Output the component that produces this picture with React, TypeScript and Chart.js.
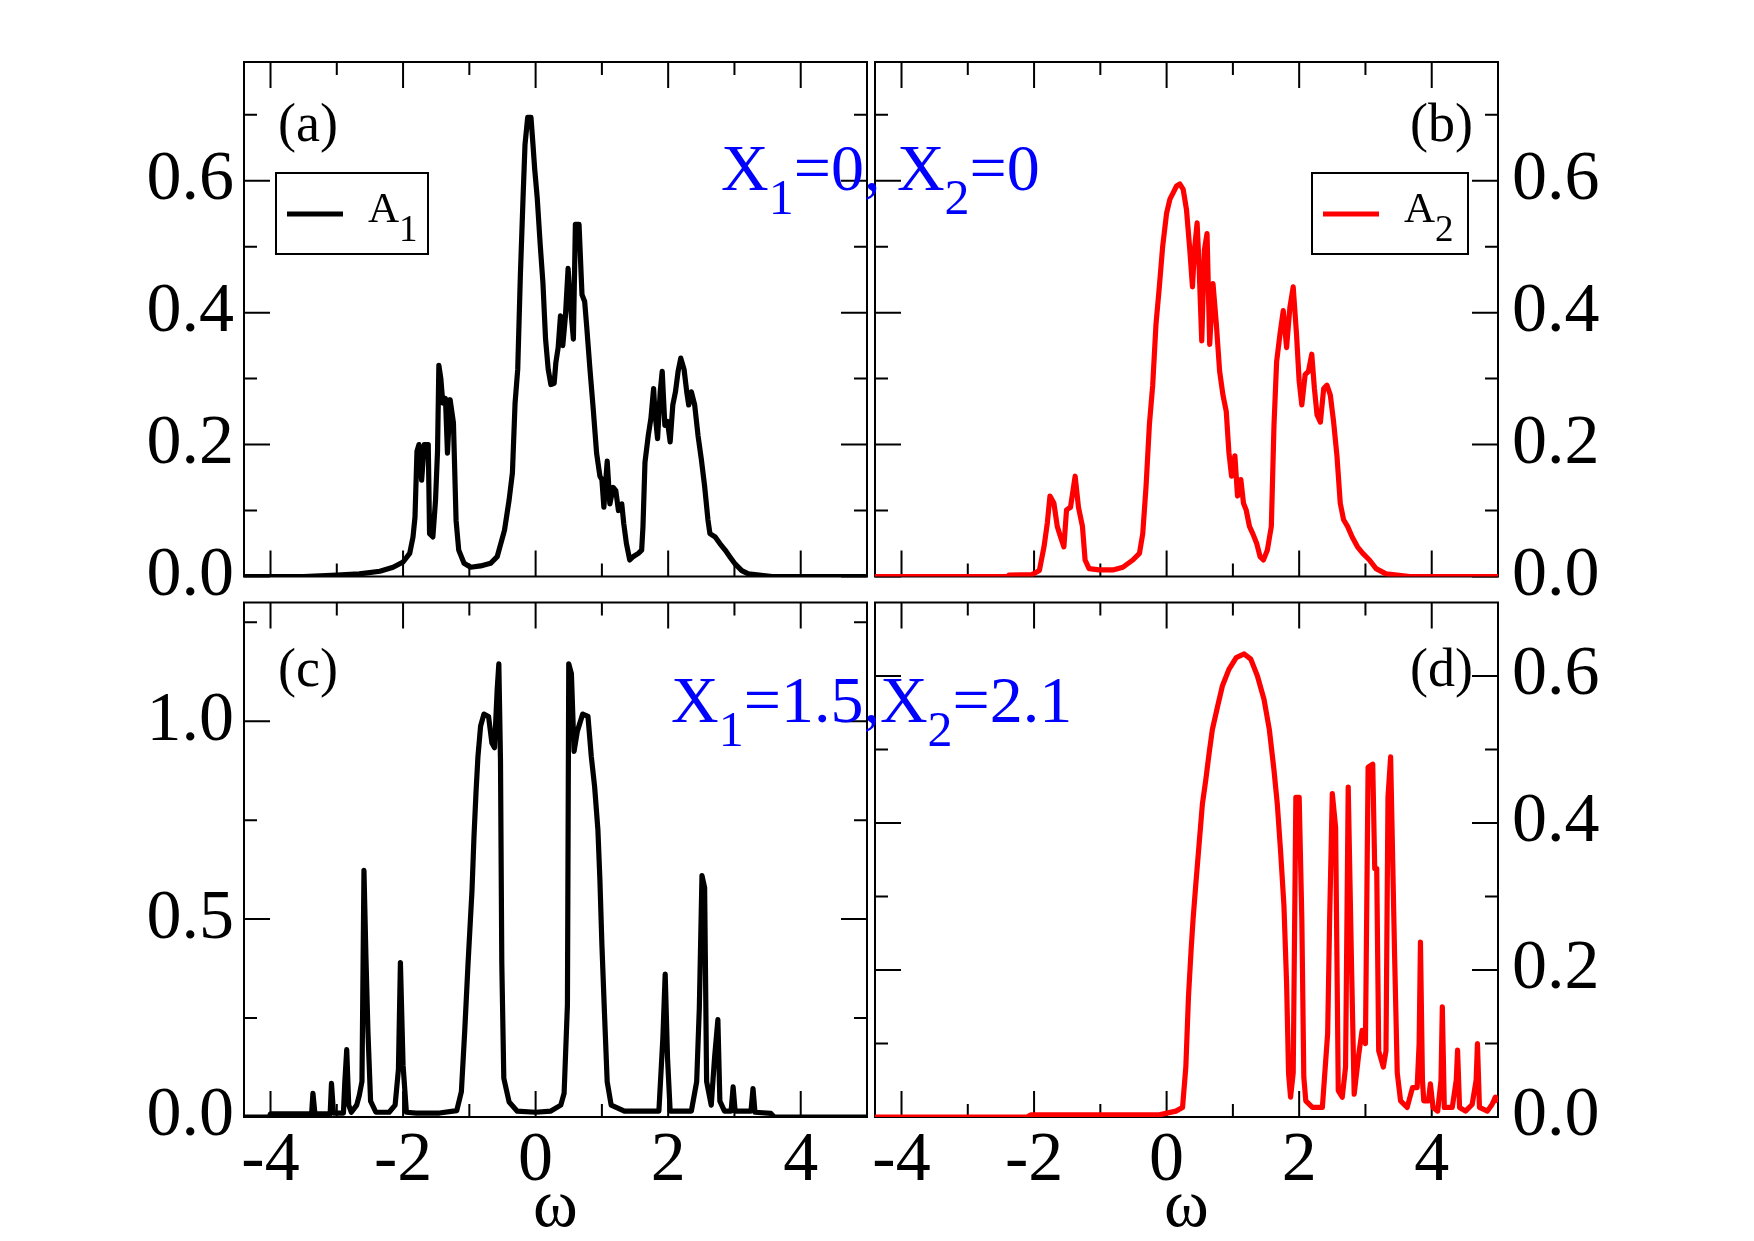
import React, { useEffect, useRef } from "react";
import { Chart, registerables } from "chart.js";

Chart.register(...registerables);

// Spectral functions A(ω) as [ω, A] pairs.
// X1 = 0, X2 = 0 — orbital 1
const specX0A1: [number, number][] = [
  [-4.4, 0], [-3.5, 0], [-3.0, 0.002], [-2.66, 0.004], [-2.35, 0.008], [-2.15, 0.014], [-2.0, 0.022],
  [-1.9, 0.035], [-1.85, 0.06], [-1.82, 0.09], [-1.79, 0.19], [-1.76, 0.2], [-1.72, 0.146], [-1.68, 0.2],
  [-1.62, 0.2], [-1.6, 0.065], [-1.55, 0.06], [-1.51, 0.116], [-1.48, 0.19], [-1.46, 0.32], [-1.43, 0.3],
  [-1.4, 0.263], [-1.36, 0.27], [-1.33, 0.187], [-1.29, 0.268], [-1.24, 0.233], [-1.2, 0.085], [-1.16, 0.04],
  [-1.08, 0.02], [-0.98, 0.014], [-0.83, 0.016], [-0.68, 0.02], [-0.58, 0.03], [-0.47, 0.07], [-0.4, 0.116],
  [-0.35, 0.157], [-0.31, 0.263], [-0.27, 0.314], [-0.23, 0.457], [-0.19, 0.573], [-0.16, 0.655],
  [-0.12, 0.696], [-0.07, 0.696], [-0.04, 0.655], [-0.015, 0.619], [0.025, 0.573], [0.07, 0.502],
  [0.11, 0.446], [0.15, 0.36], [0.19, 0.314], [0.23, 0.291], [0.28, 0.293], [0.305, 0.324], [0.34, 0.347],
  [0.375, 0.395], [0.41, 0.35], [0.45, 0.395], [0.49, 0.467], [0.53, 0.406], [0.57, 0.36], [0.6, 0.534],
  [0.655, 0.534], [0.7, 0.427], [0.74, 0.417], [0.77, 0.38], [0.82, 0.314], [0.87, 0.253], [0.92, 0.187],
  [0.97, 0.152], [1.0, 0.147], [1.03, 0.105], [1.08, 0.175], [1.12, 0.11], [1.17, 0.135], [1.21, 0.13],
  [1.25, 0.1], [1.3, 0.11], [1.33, 0.08], [1.37, 0.05], [1.42, 0.025], [1.47, 0.03], [1.55, 0.035],
  [1.6, 0.04], [1.62, 0.076], [1.65, 0.173], [1.7, 0.214], [1.74, 0.24], [1.78, 0.285], [1.8, 0.25],
  [1.84, 0.209], [1.88, 0.28], [1.91, 0.311], [1.95, 0.229], [1.99, 0.235], [2.03, 0.204], [2.07, 0.26],
  [2.11, 0.28], [2.15, 0.311], [2.19, 0.331], [2.24, 0.314], [2.28, 0.28], [2.31, 0.26], [2.35, 0.28],
  [2.4, 0.26], [2.45, 0.214], [2.5, 0.178], [2.55, 0.137], [2.6, 0.086], [2.63, 0.065], [2.71, 0.06],
  [2.78, 0.05], [2.86, 0.04], [2.93, 0.03], [3.01, 0.019], [3.11, 0.009], [3.21, 0.004], [3.57, 0], [5.0, 0],
];

// X1 = 0, X2 = 0 — orbital 2
const specX0A2: [number, number][] = [
  [-4.4, 0], [-2.4, 0], [-2.38, 0.002], [-2.03, 0.003], [-1.92, 0.009], [-1.85, 0.045], [-1.8, 0.081],
  [-1.76, 0.122], [-1.7, 0.111], [-1.65, 0.076], [-1.6, 0.06], [-1.55, 0.045], [-1.51, 0.101],
  [-1.45, 0.105], [-1.38, 0.152], [-1.33, 0.105], [-1.27, 0.076], [-1.23, 0.025], [-1.17, 0.012],
  [-1.02, 0.01], [-0.81, 0.01], [-0.66, 0.014], [-0.51, 0.025], [-0.41, 0.035], [-0.36, 0.065],
  [-0.31, 0.137], [-0.26, 0.23], [-0.21, 0.29], [-0.16, 0.383], [-0.11, 0.439], [-0.06, 0.5], [0.0, 0.551],
  [0.05, 0.572], [0.1, 0.582], [0.15, 0.592], [0.2, 0.595], [0.25, 0.587], [0.3, 0.556], [0.35, 0.495],
  [0.39, 0.439], [0.42, 0.495], [0.46, 0.536], [0.49, 0.47], [0.53, 0.357], [0.57, 0.495], [0.61, 0.52],
  [0.65, 0.352], [0.7, 0.444], [0.75, 0.383], [0.8, 0.311], [0.85, 0.275], [0.9, 0.25], [0.94, 0.188],
  [0.98, 0.152], [1.03, 0.183], [1.07, 0.122], [1.12, 0.147], [1.16, 0.111], [1.2, 0.101], [1.25, 0.076],
  [1.3, 0.065], [1.36, 0.05], [1.41, 0.03], [1.46, 0.025], [1.52, 0.04], [1.58, 0.076], [1.62, 0.229],
  [1.66, 0.326], [1.71, 0.367], [1.76, 0.403], [1.81, 0.347], [1.86, 0.408], [1.91, 0.439], [1.96, 0.367],
  [2.0, 0.296], [2.04, 0.26], [2.09, 0.306], [2.14, 0.311], [2.19, 0.337], [2.23, 0.285], [2.27, 0.245],
  [2.32, 0.234], [2.37, 0.285], [2.42, 0.29], [2.47, 0.275], [2.52, 0.234], [2.57, 0.183], [2.62, 0.111],
  [2.67, 0.086], [2.73, 0.076], [2.8, 0.06], [2.88, 0.045], [2.96, 0.035], [3.06, 0.025], [3.16, 0.012],
  [3.31, 0.004], [3.67, 0], [5.0, 0],
];

// X1 = 1.5, X2 = 2.1 — orbital 1
const specX15A1: [number, number][] = [
  [-4.4, 0], [-4.02, 0], [-4.0, 0.008], [-3.38, 0.008], [-3.36, 0.06], [-3.33, 0.008], [-3.1, 0.008],
  [-3.08, 0.085], [-3.05, 0.01], [-2.9, 0.01], [-2.88, 0.085], [-2.85, 0.17], [-2.82, 0.03], [-2.78, 0.012],
  [-2.7, 0.03], [-2.66, 0.055], [-2.62, 0.09], [-2.59, 0.623], [-2.56, 0.403], [-2.53, 0.216],
  [-2.49, 0.04], [-2.41, 0.012], [-2.21, 0.012], [-2.12, 0.03], [-2.07, 0.12], [-2.04, 0.39], [-2.0, 0.131],
  [-1.95, 0.012], [-1.8, 0.01], [-1.45, 0.01], [-1.19, 0.016], [-1.12, 0.064], [-1.07, 0.216],
  [-1.02, 0.386], [-0.96, 0.572], [-0.93, 0.708], [-0.9, 0.818], [-0.87, 0.911], [-0.83, 0.988],
  [-0.78, 1.018], [-0.71, 1.012], [-0.66, 0.945], [-0.62, 0.933], [-0.58, 1.08], [-0.555, 1.145],
  [-0.53, 0.9], [-0.51, 0.386], [-0.48, 0.098], [-0.4, 0.038], [-0.28, 0.015], [0.0, 0.012], [0.23, 0.015],
  [0.38, 0.03], [0.43, 0.06], [0.48, 0.284], [0.5, 1.145], [0.54, 1.12], [0.58, 0.924], [0.63, 0.975],
  [0.71, 1.018], [0.79, 1.012], [0.84, 0.911], [0.89, 0.835], [0.94, 0.725], [0.97, 0.599], [1.0, 0.436],
  [1.04, 0.258], [1.08, 0.089], [1.14, 0.03], [1.34, 0.015], [1.86, 0.015], [1.92, 0.2], [1.955, 0.361],
  [1.99, 0.15], [2.03, 0.015], [2.35, 0.015], [2.43, 0.089], [2.47, 0.275], [2.51, 0.61], [2.55, 0.58],
  [2.58, 0.09], [2.65, 0.03], [2.7, 0.15], [2.75, 0.246], [2.78, 0.04], [2.85, 0.015], [2.95, 0.015],
  [2.98, 0.076], [3.01, 0.015], [3.25, 0.015], [3.28, 0.072], [3.31, 0.012], [3.55, 0.009], [3.6, 0],
  [5.0, 0],
];

// X1 = 1.5, X2 = 2.1 — orbital 2
const specX15A2: [number, number][] = [
  [-4.4, 0], [-2.1, 0], [-2.05, 0.003], [-0.11, 0.003], [0.14, 0.008], [0.24, 0.013], [0.29, 0.068],
  [0.33, 0.164], [0.37, 0.228], [0.4, 0.27], [0.44, 0.316], [0.49, 0.371], [0.54, 0.426], [0.59, 0.458],
  [0.64, 0.494], [0.69, 0.527], [0.77, 0.559], [0.84, 0.586], [0.94, 0.609], [1.05, 0.625], [1.17, 0.63],
  [1.27, 0.623], [1.37, 0.6], [1.47, 0.568], [1.55, 0.527], [1.62, 0.472], [1.67, 0.426], [1.72, 0.361],
  [1.77, 0.288], [1.81, 0.183], [1.84, 0.059], [1.87, 0.027], [1.91, 0.06], [1.95, 0.435], [2.0, 0.435],
  [2.04, 0.27], [2.07, 0.054], [2.1, 0.022], [2.2, 0.013], [2.35, 0.013], [2.43, 0.114], [2.46, 0.27],
  [2.5, 0.44], [2.55, 0.394], [2.59, 0.036], [2.65, 0.027], [2.7, 0.068], [2.74, 0.449], [2.79, 0.206],
  [2.83, 0.031], [2.9, 0.086], [2.95, 0.118], [3.0, 0.1], [3.04, 0.476], [3.11, 0.48], [3.14, 0.338],
  [3.17, 0.338], [3.2, 0.09], [3.27, 0.068], [3.31, 0.09], [3.34, 0.435], [3.38, 0.49], [3.44, 0.219],
  [3.48, 0.06], [3.53, 0.022], [3.63, 0.013], [3.71, 0.04], [3.78, 0.04], [3.81, 0.1], [3.83, 0.238],
  [3.86, 0.05], [3.88, 0.022], [3.95, 0.022], [3.98, 0.045], [4.02, 0.013], [4.09, 0.008], [4.14, 0.05],
  [4.16, 0.15], [4.19, 0.013], [4.31, 0.013], [4.37, 0.05], [4.39, 0.091], [4.42, 0.013], [4.51, 0.008],
  [4.61, 0.017], [4.67, 0.05], [4.69, 0.1], [4.72, 0.013], [4.84, 0.008], [4.91, 0.017], [4.96, 0.027],
  [5.0, 0.02],
];

// Axis ranges and tick values
const omegaRange: [number, number] = [-4.4, 5.0];
const omegaTicks = [-4, -2, 0, 2, 4];
const omegaMinorTicks = [-3, -1, 1, 3];

const rhoMaxX0 = 0.78;
const rhoTicksX0 = [0, 0.2, 0.4, 0.6];
const rhoMinorTicksX0 = [0.1, 0.3, 0.5, 0.7];

const rhoMaxX15A1 = 1.3;
const rhoTicksX15A1 = [0, 0.5, 1.0];
const rhoMinorTicksX15A1 = [0.25, 0.75, 1.25];

const rhoMaxX15A2 = 0.7;
const rhoTicksX15A2 = [0, 0.2, 0.4, 0.6];
const rhoMinorTicksX15A2 = [0.1, 0.3, 0.5];

// Page geometry
const PAGE_W = 1754;
const PAGE_H = 1241;
const CANVAS_H = 1300;
const Y_AXIS_W = 200;
const X_AXIS_H = 132;
const MAJOR_LEN = 26;
const MINOR_LEN = 13;
const CURVE_W = 5.2;
const SERIF = '"Liberation Serif", "Times New Roman", serif';

type Part = { t: string; sub?: boolean };

interface Panel {
  id: string;
  spec: [number, number][];
  color: string;
  name: string;
  index: string;
  area: { left: number; top: number; right: number; bottom: number };
  yMax: number;
  yTicks: number[];
  yMinor: number[];
  ySide: "left" | "right";
  showOmega: boolean;
  tag: string;
  tagY: number;
  legend?: { left: number; top: number; width: number; height: number };
  note?: { parts: Part[]; x: number; y: number };
}

const panels: Panel[] = [
  {
    id: "a", spec: specX0A1, color: "#000000", name: "A", index: "1",
    area: { left: 244, top: 62, right: 867, bottom: 576.5 },
    yMax: rhoMaxX0, yTicks: rhoTicksX0, yMinor: rhoMinorTicksX0, ySide: "left",
    showOmega: false, tag: "(a)", tagY: 141,
    legend: { left: 276, top: 173, width: 152, height: 81 },
  },
  {
    id: "c", spec: specX15A1, color: "#000000", name: "A", index: "1",
    area: { left: 244, top: 602.5, right: 867, bottom: 1117 },
    yMax: rhoMaxX15A1, yTicks: rhoTicksX15A1, yMinor: rhoMinorTicksX15A1, ySide: "left",
    showOmega: true, tag: "(c)", tagY: 686,
  },
  {
    id: "b", spec: specX0A2, color: "#ff0000", name: "A", index: "2",
    area: { left: 875, top: 62, right: 1498, bottom: 576.5 },
    yMax: rhoMaxX0, yTicks: rhoTicksX0, yMinor: rhoMinorTicksX0, ySide: "right",
    showOmega: false, tag: "(b)", tagY: 141,
    legend: { left: 1312, top: 173, width: 156, height: 81 },
    note: {
      parts: [{ t: "X" }, { t: "1", sub: true }, { t: "=0, X" }, { t: "2", sub: true }, { t: "=0" }],
      x: 721, y: 190,
    },
  },
  {
    id: "d", spec: specX15A2, color: "#ff0000", name: "A", index: "2",
    area: { left: 875, top: 602.5, right: 1498, bottom: 1117 },
    yMax: rhoMaxX15A2, yTicks: rhoTicksX15A2, yMinor: rhoMinorTicksX15A2, ySide: "right",
    showOmega: true, tag: "(d)", tagY: 686,
    note: {
      parts: [{ t: "X" }, { t: "1", sub: true }, { t: "=1.5,X" }, { t: "2", sub: true }, { t: "=2.1" }],
      x: 671, y: 722,
    },
  },
];

function drawRich(
  ctx: CanvasRenderingContext2D, parts: Part[], x: number, y: number,
  size: number, subSize: number, drop: number, color: string,
) {
  let cx = x;
  ctx.fillStyle = color;
  ctx.textAlign = "left";
  ctx.textBaseline = "alphabetic";
  for (const p of parts) {
    ctx.font = `${p.sub ? subSize : size}px ${SERIF}`;
    ctx.fillText(p.t, cx, y + (p.sub ? drop : 0));
    cx += ctx.measureText(p.t).width;
  }
}

function decorations(p: Panel) {
  return {
    id: "decor-" + p.id,
    beforeDatasetsDraw(chart: any) {
      const { ctx, chartArea: a } = chart;
      const xs = chart.scales.x;
      const ys = chart.scales.y;
      ctx.save();
      ctx.strokeStyle = "#000";
      ctx.lineWidth = 2;
      ctx.strokeRect(a.left, a.top, a.right - a.left, a.bottom - a.top);
      ctx.beginPath();
      const xTick = (v: number, len: number) => {
        const px = xs.getPixelForValue(v);
        ctx.moveTo(px, a.bottom);
        ctx.lineTo(px, a.bottom - len);
        ctx.moveTo(px, a.top);
        ctx.lineTo(px, a.top + len);
      };
      const yTick = (v: number, len: number) => {
        const py = ys.getPixelForValue(v);
        ctx.moveTo(a.left, py);
        ctx.lineTo(a.left + len, py);
        ctx.moveTo(a.right, py);
        ctx.lineTo(a.right - len, py);
      };
      omegaTicks.forEach((v) => xTick(v, MAJOR_LEN));
      omegaMinorTicks.forEach((v) => xTick(v, MINOR_LEN));
      p.yTicks.forEach((v) => yTick(v, MAJOR_LEN));
      p.yMinor.forEach((v) => yTick(v, MINOR_LEN));
      ctx.stroke();
      ctx.restore();
    },
    afterDatasetsDraw(chart: any) {
      const { ctx, chartArea: a } = chart;
      ctx.save();
      // panel tag
      ctx.fillStyle = "#000";
      ctx.font = `54px ${SERIF}`;
      ctx.textBaseline = "alphabetic";
      if (p.ySide === "left") {
        ctx.textAlign = "left";
        ctx.fillText(p.tag, a.left + 34, p.tagY);
      } else {
        ctx.textAlign = "right";
        ctx.fillText(p.tag, a.right - 25, p.tagY);
      }
      // legend box
      if (p.legend) {
        const L = p.legend;
        ctx.fillStyle = "#fff";
        ctx.fillRect(L.left, L.top, L.width, L.height);
        ctx.strokeStyle = "#000";
        ctx.lineWidth = 2;
        ctx.strokeRect(L.left, L.top, L.width, L.height);
        const ly = L.top + 41;
        ctx.strokeStyle = p.color;
        ctx.lineWidth = CURVE_W;
        ctx.beginPath();
        ctx.moveTo(L.left + 11, ly);
        ctx.lineTo(L.left + 67, ly);
        ctx.stroke();
        drawRich(ctx, [{ t: p.name }, { t: p.index, sub: true }], L.left + 92, L.top + 49, 43, 37, 19, "#000");
      }
      if (p.note) {
        drawRich(ctx, p.note.parts, p.note.x, p.note.y, 66, 50, 24, "#0000ff");
      }
      ctx.restore();
    },
  };
}

function buildConfig(p: Panel): any {
  const padding = {
    left: p.ySide === "left" ? p.area.left - Y_AXIS_W : p.area.left,
    right: p.ySide === "right" ? PAGE_W - p.area.right - Y_AXIS_W : PAGE_W - p.area.right,
    top: p.area.top,
    bottom: CANVAS_H - p.area.bottom - X_AXIS_H,
  };
  return {
    type: "line",
    data: {
      datasets: [
        {
          label: p.name + p.index,
          data: p.spec.map(([x, y]) => ({ x, y })),
          borderColor: p.color,
          backgroundColor: p.color,
          borderWidth: CURVE_W,
          borderJoinStyle: "round",
          pointRadius: 0,
          tension: 0,
          fill: false,
        },
      ],
    },
    options: {
      responsive: false,
      animation: false,
      devicePixelRatio: 1,
      events: [],
      layout: { padding },
      plugins: { legend: { display: false }, tooltip: { enabled: false } },
      scales: {
        x: {
          type: "linear",
          position: "bottom",
          min: omegaRange[0],
          max: omegaRange[1],
          grid: { display: false, drawTicks: false },
          border: { display: false },
          ticks: {
            display: p.showOmega,
            autoSkip: false,
            maxRotation: 0,
            padding: 3,
            color: "#000",
            font: { family: SERIF, size: 70 },
            callback: (v: number) => String(v),
          },
          title: {
            display: p.showOmega,
            text: "ω",
            color: "#000",
            font: { family: SERIF, size: 68 },
            padding: { top: 0, bottom: 0 },
          },
          afterBuildTicks: (s: any) => {
            s.ticks = omegaTicks.map((value) => ({ value }));
          },
          afterFit: (s: any) => {
            s.height = X_AXIS_H;
          },
        },
        y: {
          type: "linear",
          position: p.ySide,
          min: 0,
          max: p.yMax,
          grid: { display: false, drawTicks: false },
          border: { display: false },
          ticks: {
            padding: p.ySide === "left" ? 10 : 14,
            color: "#000",
            font: { family: SERIF, size: 70 },
            callback: (v: number) => Number(v).toFixed(1),
          },
          afterBuildTicks: (s: any) => {
            s.ticks = p.yTicks.map((value) => ({ value }));
          },
          afterFit: (s: any) => {
            s.width = Y_AXIS_W;
          },
        },
      },
    },
    plugins: [decorations(p)],
  };
}

function PanelChart({ panel }: { panel: Panel }) {
  const ref = useRef<HTMLCanvasElement>(null);
  useEffect(() => {
    const canvas = ref.current;
    if (!canvas) return;
    const chart = new Chart(canvas, buildConfig(panel));
    return () => chart.destroy();
  }, [panel]);
  return (
    <canvas
      ref={ref}
      width={PAGE_W}
      height={CANVAS_H}
      style={{ position: "absolute", left: 0, top: 0, width: PAGE_W, height: CANVAS_H }}
    />
  );
}

export default function App() {
  return (
    <div
      style={{
        position: "absolute",
        left: 0,
        top: 0,
        width: PAGE_W,
        height: PAGE_H,
        overflow: "hidden",
        background: "#ffffff",
      }}
    >
      {panels.map((p) => (
        <PanelChart key={p.id} panel={p} />
      ))}
    </div>
  );
}
